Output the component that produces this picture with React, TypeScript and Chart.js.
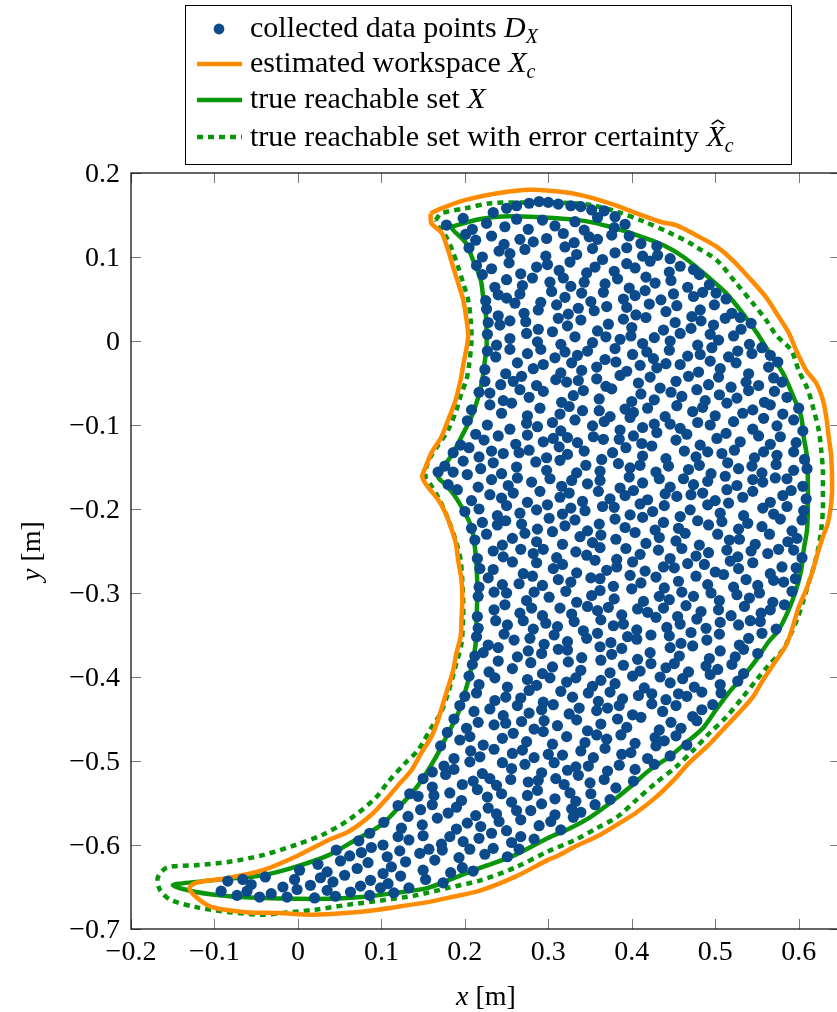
import { useEffect, useRef } from "react";
import { Chart, registerables } from "chart.js";

Chart.register(...registerables);

const CANVAS_W = 846;
const CANVAS_H = 1012;
const VIEW_W = 837;

const X_MIN = -0.2;
const X_MAX = 0.65;
const Y_MIN = -0.7;
const Y_MAX = 0.2;

const xTickValues = [-0.2, -0.1, 0, 0.1, 0.2, 0.3, 0.4, 0.5, 0.6];
const xTickLabels = ["−0.2", "−0.1", "0", "0.1", "0.2", "0.3", "0.4", "0.5", "0.6"];
const yTickValues = [0.2, 0.1, 0, -0.1, -0.2, -0.3, -0.4, -0.5, -0.6, -0.7];
const yTickLabels = ["0.2", "0.1", "0", "−0.1", "−0.2", "−0.3", "−0.4", "−0.5", "−0.6", "−0.7"];

const xAxisTitle = ["x", " [m]"];
const yAxisTitle = ["y", " [m]"];

const legendTexts = [
  "collected data points ",
  "estimated workspace ",
  "true reachable set ",
  "true reachable set with error certainty ",
];

const BLUE = "#0b4a8b";
const ORANGE = "#ff8c00";
const GREEN = "#0a960a";
const SERIF = '"Liberation Serif", "Times New Roman", serif';

// collected data points, in thousandths of a metre: x, y, x, y, ...
const collectedPointsMilli = [
  234,153, 250,158, 262,161, 277,164, 289,166, 300,165, 312,163, 327,161, 339,160, 352,156, 367,155, 380,148,
  178,138, 198,146, 209,133, 226,140, 248,136, 262,145, 276,133, 293,144, 308,137, 332,142, 343,132, 359,147, 379,135, 392,139,
  201,127, 213,120, 232,125, 247,115, 266,121, 282,118, 298,122, 318,128, 331,117, 349,124, 359,121, 376,126, 397,125, 411,116, 430,113,
  205,111, 221,100, 241,107, 254,104, 272,109, 297,101, 320,112, 334,103, 353,110, 365,97, 380,105, 394,111, 413,101, 431,102, 446,98,
  214,90, 232,86, 253,93, 267,80, 286,88, 299,91, 313,84, 326,94, 346,81, 356,88, 379,83, 394,92, 404,87, 422,95, 445,82, 458,89, 474,85,
  221,79, 236,64, 250,73, 269,66, 281,75, 302,70, 318,75, 327,65, 343,70, 368,68, 383,74, 397,63, 417,76, 428,69, 447,72, 467,64, 481,79, 493,67,
  225,48, 240,55, 250,51, 266,56, 291,46, 304,59, 320,52, 340,57, 351,47, 366,58, 390,50, 404,54, 416,60, 435,49, 450,56, 474,53, 485,58, 501,57, 513,50,
  226,38, 240,30, 260,45, 271,33, 288,37, 310,43, 324,32, 336,39, 355,36, 370,41, 394,40, 405,31, 421,44, 441,35, 454,42, 472,29, 482,37, 499,43, 520,33, 530,28,
  228,22, 242,19, 254,24, 273,23, 288,14, 312,27, 323,18, 339,25, 359,12, 372,20, 390,26, 400,16, 417,28, 438,13, 452,22, 471,15, 483,24, 498,19, 512,27, 531,14, 543,21,
  227,8, 238,-5, 254,3, 274,9, 287,-1, 305,11, 315,-4, 332,5, 353,-2, 369,5, 386,2, 399,6, 413,-3, 427,4, 446,0, 458,9, 479,-5, 494,8, 504,1, 522,6, 541,-4, 556,-8,
  227,-12, 237,-19, 254,-10, 275,-15, 291,-10, 308,-20, 320,-13, 335,-17, 347,-12, 368,-22, 380,-9, 401,-16, 418,-13, 426,-21, 445,-11, 467,-18, 482,-16, 496,-8, 516,-19, 527,-12, 544,-15, 566,-17,
  224,-34, 249,-39, 263,-26, 282,-33, 294,-28, 315,-38, 328,-26, 340,-35, 358,-31, 381,-25, 394,-36, 410,-29, 430,-32, 441,-27, 458,-28, 480,-37, 494,-24, 506,-33, 525,-26, 540,-39, 564,-31, 575,-25,
  224,-48, 243,-52, 258,-48, 268,-42, 286,-53, 309,-46, 322,-49, 336,-47, 358,-45, 369,-54, 386,-41, 408,-50, 422,-43, 434,-56, 453,-48, 468,-42, 492,-52, 504,-43, 519,-55, 537,-49, 552,-53, 570,-44, 580,-49,
  217,-61, 230,-62, 246,-71, 266,-58, 277,-67, 294,-60, 316,-73, 330,-65, 342,-59, 361,-69, 376,-57, 400,-72, 411,-63, 427,-70, 447,-61, 460,-66, 478,-58, 488,-71, 505,-64, 526,-68, 540,-59, 559,-73, 571,-60, 586,-67,
  208,-82, 230,-76, 244,-86, 256,-74, 275,-89, 290,-80, 314,-87, 325,-78, 341,-83, 361,-83, 374,-90, 392,-81, 402,-85, 419,-80, 440,-90, 454,-77, 473,-84, 485,-79, 500,-89, 514,-74, 533,-86, 545,-82, 566,-76, 581,-87, 600,-80,
  203,-95, 227,-100, 254,-105, 274,-98, 287,-102, 305,-97, 315,-107, 332,-94, 353,-101, 367,-96, 386,-106, 398,-91, 413,-103, 427,-99, 446,-99, 458,-104, 479,-97, 494,-100, 522,-96, 545,-105, 558,-92, 574,-101, 594,-94, 605,-107,
  195,-124, 213,-111, 223,-118, 240,-113, 261,-123, 275,-112, 294,-120, 306,-116, 323,-115, 335,-121, 354,-114, 366,-117, 385,-117, 402,-113, 412,-122, 430,-109, 453,-118, 466,-111, 482,-124, 502,-116, 513,-110, 530,-120, 552,-113, 566,-123, 578,-114, 597,-121,
  186,-133, 205,-127, 217,-138, 232,-131, 246,-134, 265,-133, 277,-130, 298,-139, 313,-126, 323,-135, 343,-131, 364,-141, 377,-133, 393,-127, 413,-137, 424,-125, 441,-140, 463,-131, 477,-138, 491,-132, 508,-134, 523,-130, 547,-139, 558,-132, 574,-136, 594,-132, 607,-141,
  168,-156, 176,-149, 186,-156, 198,-143, 219,-152, 234,-145, 244,-158, 262,-150, 285,-144, 298,-154, 314,-142, 334,-157, 345,-148, 362,-155, 384,-146, 398,-151, 410,-148, 429,-156, 444,-149, 468,-153, 481,-148, 495,-158, 515,-145, 528,-152, 544,-149, 556,-157, 573,-147, 594,-154, 610,-152,
  180,-171, 203,-159, 216,-174, 232,-165, 252,-172, 263,-163, 280,-168, 302,-164, 316,-173, 328,-166, 347,-170, 362,-166, 386,-175, 397,-162, 413,-169, 433,-164, 446,-174, 462,-164, 474,-171, 491,-167, 512,-161, 526,-172, 545,-165, 557,-168, 572,-163, 586,-164, 605,-173,
  191,-177, 208,-190, 230,-183, 244,-187, 258,-181, 275,-192, 290,-179, 314,-186, 325,-181, 341,-191, 360,-179, 374,-188, 392,-184, 402,-178, 419,-189, 440,-182, 454,-185, 471,-183, 485,-181, 500,-190, 514,-177, 533,-186, 545,-179, 566,-192, 581,-184, 591,-178, 609,-188,
  200,-203, 217,-200, 239,-208, 250,-196, 266,-205, 286,-201, 299,-195, 317,-206, 327,-199, 344,-202, 365,-197, 379,-198, 398,-207, 410,-194, 425,-203, 439,-196, 458,-209, 470,-201, 491,-195, 506,-205, 516,-193, 534,-208, 557,-199, 570,-206, 586,-197, 606,-202,
  208,-223, 221,-216, 239,-219, 249,-214, 268,-218, 287,-224, 301,-211, 320,-220, 332,-213, 347,-226, 361,-218, 380,-212, 392,-222, 413,-210, 428,-225, 438,-216, 456,-223, 479,-214, 492,-219, 508,-215, 528,-224, 539,-217, 556,-221, 578,-212, 592,-226, 604,-213,
  212,-237, 226,-230, 245,-243, 257,-235, 272,-229, 286,-239, 305,-227, 317,-242, 338,-233, 353,-240, 363,-231, 381,-236, 404,-228, 417,-241, 433,-234, 453,-238, 464,-229, 481,-243, 503,-230, 517,-237, 529,-236, 548,-242, 565,-230, 587,-239, 598,-235,
  215,-259, 234,-250, 246,-257, 267,-248, 282,-253, 294,-248, 310,-258, 333,-251, 346,-255, 362,-246, 382,-260, 393,-247, 410,-254, 432,-249, 446,-259, 460,-247, 477,-256, 492,-252, 514,-249, 527,-257, 543,-250, 563,-253, 576,-248, 594,-249, 604,-258,
  218,-271, 234,-272, 257,-263, 270,-277, 286,-264, 306,-271, 317,-266, 334,-276, 356,-261, 370,-273, 382,-269, 401,-263, 416,-274, 438,-269, 451,-270, 467,-265, 487,-266, 500,-275, 518,-262, 528,-271, 545,-264, 566,-277, 580,-269, 597,-270,
  217,-293, 228,-282, 245,-290, 265,-289, 281,-280, 293,-291, 312,-284, 327,-287, 351,-282, 362,-283, 378,-292, 398,-279, 411,-288, 429,-281, 439,-294, 456,-286, 477,-280, 491,-290, 510,-278, 522,-293, 537,-284, 551,-291, 570,-285, 582,-287, 596,-283,
  216,-304, 235,-299, 250,-300, 274,-309, 283,-299, 301,-305, 321,-298, 334,-311, 352,-303, 362,-297, 379,-307, 400,-295, 414,-310, 433,-304, 445,-308, 460,-299, 474,-304, 495,-300, 505,-309, 526,-302, 541,-306, 553,-300, 569,-311, 592,-298,
  215,-328, 235,-320, 248,-314, 266,-324, 280,-318, 293,-327, 314,-318, 328,-325, 347,-316, 359,-321, 372,-317, 388,-326, 407,-319, 419,-323, 438,-318, 455,-328, 465,-315, 483,-322, 504,-320, 519,-327, 535,-316, 555,-324, 566,-320, 583,-314,
  216,-342, 237,-333, 251,-338, 270,-333, 282,-343, 297,-336, 311,-340, 331,-334, 342,-345, 363,-332, 378,-339, 390,-337, 406,-344, 429,-329, 442,-341, 458,-337, 478,-331, 489,-342, 506,-335, 528,-338, 542,-333, 554,-334, 573,-343,
  214,-352, 228,-362, 247,-349, 259,-356, 278,-354, 295,-361, 307,-350, 323,-358, 346,-354, 359,-348, 375,-359, 395,-352, 406,-355, 423,-350, 445,-351, 459,-360, 471,-347, 490,-356, 505,-349, 529,-362, 540,-354, 556,-348,
  212,-375, 222,-371, 240,-365, 263,-376, 276,-369, 292,-372, 312,-367, 323,-368, 340,-377, 362,-364, 376,-373, 388,-366, 407,-379, 422,-371, 446,-365, 457,-375, 473,-363, 493,-378, 506,-369, 524,-376, 534,-367, 551,-372,
  209,-385, 229,-394, 240,-381, 257,-390, 279,-383, 293,-396, 305,-388, 324,-382, 339,-392, 363,-380, 374,-395, 390,-386, 410,-393, 423,-384, 441,-389, 451,-384, 468,-394, 489,-387, 503,-391, 520,-385, 534,-396,
  205,-399, 217,-409, 236,-401, 251,-412, 275,-403, 286,-410, 302,-401, 322,-406, 333,-401, 353,-411, 363,-404, 380,-408, 401,-399, 415,-413, 434,-400, 446,-407, 461,-402, 475,-412, 494,-397, 506,-409, 527,-405,
  200,-423, 214,-419, 236,-428, 249,-424, 267,-425, 277,-416, 294,-430, 315,-417, 329,-424, 348,-419, 360,-429, 374,-418, 389,-426, 408,-422, 424,-420, 441,-427, 456,-420, 466,-423, 484,-418, 507,-419,
  194,-434, 211,-441, 230,-438, 246,-446, 263,-434, 277,-443, 292,-439, 306,-433, 325,-444, 337,-437, 358,-440, 371,-437, 385,-434, 401,-445, 424,-432, 437,-441, 453,-434, 473,-447, 484,-439, 497,-433,
  187,-450, 202,-461, 216,-454, 235,-457, 249,-455, 268,-453, 283,-462, 295,-452, 311,-458, 334,-451, 347,-464, 363,-456, 383,-450, 394,-460, 411,-448, 433,-463, 447,-454, 459,-461, 478,-452,
  179,-466, 194,-475, 206,-471, 222,-481, 245,-473, 258,-467, 274,-477, 294,-465, 305,-480, 322,-471, 344,-478, 358,-469, 370,-474, 387,-469, 404,-479, 428,-472, 439,-476, 453,-470, 466,-481,
  171,-482, 187,-497, 207,-488, 218,-495, 235,-486, 257,-491, 269,-487, 283,-496, 300,-492, 317,-493, 339,-488, 354,-496, 368,-485, 388,-492, 399,-490, 419,-497, 429,-482, 446,-494,
  161,-513, 175,-506, 187,-510, 206,-501, 221,-515, 245,-502, 256,-509, 272,-504, 292,-514, 307,-502, 323,-511, 333,-507, 348,-506, 371,-512, 385,-505, 404,-510, 427,-504,
  150,-521, 161,-531, 177,-516, 197,-528, 210,-524, 230,-521, 238,-529, 255,-522, 276,-525, 288,-523, 309,-521, 319,-528, 336,-517, 350,-526, 367,-522, 381,-532, 402,-524,
  134,-539, 144,-542, 163,-541, 182,-538, 196,-547, 215,-534, 227,-543, 244,-539, 256,-549, 275,-541, 287,-535, 308,-545, 326,-538, 333,-548, 351,-539, 374,-546,
  120,-553, 132,-566, 147,-558, 161,-552, 180,-562, 190,-555, 213,-565, 228,-556, 238,-563, 262,-559, 279,-559, 292,-551, 308,-564, 328,-557, 339,-561, 356,-552,
  103,-573, 124,-580, 149,-576, 167,-568, 190,-581, 203,-574, 219,-578, 241,-572, 250,-583, 267,-570, 289,-577, 303,-572, 315,-582, 330,-567,
  73,-595, 86,-586, 102,-600, 120,-590, 133,-594, 150,-589, 172,-599, 182,-590, 198,-596, 217,-592, 232,-586, 256,-597, 267,-590, 283,-593,
  46,-606, 62,-613, 76,-609, 88,-603, 107,-614, 122,-607, 146,-610, 157,-605, 173,-606, 193,-615, 206,-605, 224,-611, 234,-604, 251,-614, 265,-605,
  2,-630, 24,-623, 35,-632, 51,-619, 71,-628, 84,-621, 102,-634, 112,-626, 129,-620, 150,-630, 164,-618, 183,-633, 197,-627, 210,-631,
  -84,-643, -66,-641, -56,-647, -39,-638, -18,-650, -4,-641, 15,-648, 27,-639, 42,-644, 56,-636, 75,-649, 87,-642, 108,-646, 123,-637, 133,-651, 153,-641, 174,-645,
  -92,-655, -73,-660, -61,-655, -46,-662, -32,-658, -13,-662, -1,-653, 20,-663, 35,-654, 45,-661, 63,-656, 86,-660, 99,-651, 115,-657,
];

// estimated workspace boundary (orange)
const estimatedWorkspace = [
  [0.159,0.152],[0.172,0.158],[0.201,0.168],[0.239,0.176],[0.279,0.180],[0.320,0.177],[0.350,0.171],[0.379,0.162],[0.406,0.152],[0.434,0.142],[0.453,0.138],[0.477,0.126],[0.502,0.112],[0.521,0.096],[0.540,0.076],[0.561,0.052],[0.576,0.029],[0.588,0.010],[0.597,-0.011],[0.609,-0.035],[0.621,-0.050],[0.629,-0.070],[0.633,-0.090],[0.636,-0.114],[0.639,-0.138],[0.640,-0.169],[0.639,-0.193],[0.635,-0.217],[0.629,-0.233],[0.623,-0.252],[0.617,-0.273],[0.609,-0.296],[0.600,-0.317],[0.593,-0.340],[0.585,-0.362],[0.569,-0.386],[0.557,-0.404],[0.545,-0.424],[0.528,-0.443],[0.509,-0.463],[0.490,-0.483],[0.469,-0.502],[0.450,-0.523],[0.429,-0.543],[0.406,-0.561],[0.382,-0.576],[0.358,-0.590],[0.334,-0.601],[0.311,-0.613],[0.299,-0.618],[0.260,-0.638],[0.219,-0.654],[0.180,-0.663],[0.156,-0.668],[0.136,-0.671],[0.096,-0.677],[0.057,-0.681],[0.017,-0.683],[-0.023,-0.681],[-0.062,-0.680],[-0.103,-0.674],[-0.122,-0.662],[-0.130,-0.651],[-0.122,-0.645],[-0.082,-0.639],[-0.042,-0.630],[-0.003,-0.614],[0.037,-0.594],[0.061,-0.584],[0.088,-0.564],[0.108,-0.543],[0.120,-0.529],[0.136,-0.511],[0.148,-0.490],[0.160,-0.471],[0.168,-0.451],[0.174,-0.431],[0.180,-0.412],[0.186,-0.392],[0.190,-0.371],[0.195,-0.352],[0.196,-0.332],[0.197,-0.308],[0.196,-0.285],[0.192,-0.261],[0.189,-0.240],[0.183,-0.221],[0.177,-0.205],[0.168,-0.189],[0.156,-0.174],[0.149,-0.162],[0.153,-0.150],[0.160,-0.133],[0.172,-0.114],[0.180,-0.094],[0.189,-0.070],[0.195,-0.046],[0.198,-0.029],[0.204,0.005],[0.202,0.025],[0.198,0.049],[0.192,0.069],[0.186,0.088],[0.180,0.108],[0.172,0.129],[0.160,0.140],[0.159,0.152],
];

// true reachable set boundary (solid green)
const trueReachableSet = [
  [0.184,0.136],[0.213,0.144],[0.239,0.148],[0.279,0.148],[0.311,0.146],[0.343,0.143],[0.374,0.136],[0.406,0.126],[0.438,0.114],[0.462,0.100],[0.493,0.075],[0.513,0.057],[0.533,0.033],[0.549,0.011],[0.563,-0.011],[0.581,-0.038],[0.594,-0.067],[0.603,-0.090],[0.606,-0.114],[0.610,-0.138],[0.611,-0.169],[0.611,-0.201],[0.610,-0.225],[0.606,-0.249],[0.603,-0.273],[0.597,-0.296],[0.588,-0.320],[0.576,-0.344],[0.564,-0.358],[0.549,-0.380],[0.533,-0.400],[0.516,-0.419],[0.501,-0.439],[0.486,-0.460],[0.469,-0.475],[0.445,-0.495],[0.421,-0.511],[0.398,-0.531],[0.374,-0.550],[0.350,-0.567],[0.326,-0.580],[0.299,-0.592],[0.260,-0.612],[0.219,-0.627],[0.180,-0.642],[0.156,-0.651],[0.117,-0.657],[0.076,-0.662],[0.037,-0.664],[-0.003,-0.664],[-0.042,-0.663],[-0.082,-0.661],[-0.122,-0.656],[-0.150,-0.648],[-0.122,-0.644],[-0.082,-0.640],[-0.042,-0.636],[-0.003,-0.626],[0.037,-0.612],[0.069,-0.594],[0.100,-0.576],[0.120,-0.556],[0.144,-0.529],[0.165,-0.496],[0.180,-0.467],[0.192,-0.443],[0.202,-0.412],[0.208,-0.388],[0.213,-0.360],[0.214,-0.329],[0.215,-0.300],[0.214,-0.267],[0.211,-0.237],[0.207,-0.219],[0.198,-0.201],[0.189,-0.186],[0.177,-0.171],[0.168,-0.162],[0.172,-0.154],[0.184,-0.136],[0.196,-0.114],[0.208,-0.090],[0.216,-0.067],[0.221,-0.046],[0.223,-0.031],[0.226,-0.007],[0.226,0.013],[0.225,0.033],[0.222,0.052],[0.219,0.073],[0.210,0.096],[0.201,0.117],[0.186,0.132],[0.184,0.136],
];

// true reachable set with error certainty (dotted green)
const errorCertaintySet = [
  [0.165,0.144],[0.172,0.152],[0.201,0.158],[0.231,0.164],[0.272,0.165],[0.311,0.165],[0.350,0.162],[0.382,0.154],[0.415,0.142],[0.445,0.129],[0.469,0.117],[0.477,0.112],[0.502,0.096],[0.525,0.069],[0.545,0.045],[0.561,0.025],[0.573,0.007],[0.591,-0.011],[0.600,-0.035],[0.611,-0.058],[0.618,-0.082],[0.624,-0.106],[0.627,-0.130],[0.629,-0.154],[0.629,-0.177],[0.629,-0.201],[0.627,-0.225],[0.623,-0.249],[0.618,-0.269],[0.612,-0.288],[0.606,-0.308],[0.599,-0.329],[0.591,-0.348],[0.581,-0.368],[0.564,-0.386],[0.549,-0.404],[0.533,-0.424],[0.513,-0.448],[0.493,-0.467],[0.474,-0.487],[0.453,-0.507],[0.429,-0.526],[0.406,-0.546],[0.382,-0.567],[0.358,-0.580],[0.334,-0.593],[0.299,-0.608],[0.260,-0.627],[0.219,-0.642],[0.180,-0.651],[0.141,-0.660],[0.100,-0.666],[0.061,-0.671],[0.021,-0.677],[-0.019,-0.681],[-0.042,-0.683],[-0.082,-0.680],[-0.122,-0.674],[-0.153,-0.665],[-0.165,-0.654],[-0.168,-0.639],[-0.157,-0.627],[-0.122,-0.624],[-0.082,-0.620],[-0.042,-0.612],[-0.003,-0.600],[0.029,-0.588],[0.061,-0.570],[0.093,-0.544],[0.108,-0.525],[0.129,-0.502],[0.144,-0.487],[0.160,-0.460],[0.171,-0.443],[0.180,-0.419],[0.190,-0.383],[0.196,-0.360],[0.198,-0.329],[0.198,-0.308],[0.195,-0.261],[0.189,-0.237],[0.178,-0.207],[0.168,-0.186],[0.159,-0.171],[0.153,-0.162],[0.154,-0.150],[0.159,-0.138],[0.168,-0.124],[0.180,-0.106],[0.190,-0.082],[0.196,-0.062],[0.202,-0.046],[0.205,-0.029],[0.208,0.001],[0.207,0.025],[0.204,0.049],[0.198,0.069],[0.192,0.088],[0.185,0.108],[0.177,0.125],[0.168,0.137],[0.165,0.144],
];

type Part = { t: string; it?: boolean; size?: number; dy?: number; hat?: boolean };

function measureRich(ctx: CanvasRenderingContext2D, parts: Part[], base: number) {
  let w = 0;
  for (const p of parts) {
    ctx.font = `${p.it ? "italic " : ""}${p.size ?? base}px ${SERIF}`;
    w += ctx.measureText(p.t).width;
  }
  return w;
}

function drawRich(ctx: CanvasRenderingContext2D, x: number, y: number, parts: Part[], base: number) {
  let cx = x;
  for (const p of parts) {
    const size = p.size ?? base;
    ctx.font = `${p.it ? "italic " : ""}${size}px ${SERIF}`;
    ctx.fillText(p.t, cx, y + (p.dy ?? 0));
    const w = ctx.measureText(p.t).width;
    if (p.hat) {
      ctx.save();
      ctx.lineWidth = 1.6;
      ctx.strokeStyle = "#000";
      const hx = cx + w * 0.62;
      const hy = y - size * 0.86;
      ctx.beginPath();
      ctx.moveTo(hx - 6, hy + 4);
      ctx.lineTo(hx, hy);
      ctx.lineTo(hx + 6, hy + 4);
      ctx.stroke();
      ctx.restore();
    }
    cx += w;
  }
  return cx;
}

const decorPlugin = {
  id: "decor",
  afterDraw(chart: any) {
    const { ctx, chartArea: a, scales } = chart;
    const xs = scales.x;
    const ys = scales.y;
    ctx.save();

    // tick marks (inward, all four sides)
    ctx.strokeStyle = "#7a7a7a";
    ctx.lineWidth = 1;
    ctx.beginPath();
    for (const v of xTickValues) {
      const px = Math.round(xs.getPixelForValue(v)) + 0.5;
      ctx.moveTo(px, a.bottom);
      ctx.lineTo(px, a.bottom - 10);
      ctx.moveTo(px, a.top);
      ctx.lineTo(px, a.top + 10);
    }
    for (const v of yTickValues) {
      const py = Math.round(ys.getPixelForValue(v)) + 0.5;
      ctx.moveTo(a.left, py);
      ctx.lineTo(a.left + 10, py);
      ctx.moveTo(a.right, py);
      ctx.lineTo(a.right - 10, py);
    }
    ctx.stroke();

    // frame
    ctx.strokeStyle = "#000";
    ctx.lineWidth = 1.2;
    ctx.strokeRect(a.left, a.top, a.right - a.left, a.bottom - a.top);

    // tick labels
    ctx.fillStyle = "#000";
    ctx.font = `28px ${SERIF}`;
    ctx.textBaseline = "alphabetic";
    ctx.textAlign = "center";
    xTickValues.forEach((v, i) => ctx.fillText(xTickLabels[i], xs.getPixelForValue(v), a.bottom + 31));
    ctx.textAlign = "right";
    yTickValues.forEach((v, i) => ctx.fillText(yTickLabels[i], a.left - 11, ys.getPixelForValue(v) + 9));

    // axis titles
    ctx.textAlign = "left";
    const xt: Part[] = [{ t: xAxisTitle[0], it: true }, { t: xAxisTitle[1] }];
    const xw = measureRich(ctx, xt, 28);
    drawRich(ctx, 486 - xw / 2, 1005, xt, 28);
    const yt: Part[] = [{ t: yAxisTitle[0], it: true }, { t: yAxisTitle[1] }];
    const yw = measureRich(ctx, yt, 28);
    ctx.save();
    ctx.translate(40, 551);
    ctx.rotate(-Math.PI / 2);
    drawRich(ctx, -yw / 2, 0, yt, 28);
    ctx.restore();

    // legend
    ctx.strokeStyle = "#000";
    ctx.lineWidth = 1;
    ctx.strokeRect(185.5, 5.5, 606, 159);
    const symY = [29, 64, 100, 137];
    const baseY = [37, 72, 108, 146];
    ctx.fillStyle = BLUE;
    ctx.beginPath();
    ctx.arc(219, symY[0], 5.4, 0, Math.PI * 2);
    ctx.fill();
    const seg = (color: string, y: number, dash: number[]) => {
      ctx.strokeStyle = color;
      ctx.lineWidth = 4.5;
      ctx.lineCap = "butt";
      ctx.setLineDash(dash);
      ctx.beginPath();
      ctx.moveTo(197, y);
      ctx.lineTo(242, y);
      ctx.stroke();
      ctx.setLineDash([]);
    };
    seg(ORANGE, symY[1], []);
    seg(GREEN, symY[2], []);
    seg(GREEN, symY[3], [6, 5]);

    ctx.fillStyle = "#000";
    const LS = 30;
    drawRich(ctx, 250, baseY[0], [{ t: legendTexts[0] }, { t: "D", it: true }, { t: "X", it: true, size: 20, dy: 6 }], LS);
    drawRich(ctx, 250, baseY[1], [{ t: legendTexts[1] }, { t: "X", it: true }, { t: "c", it: true, size: 20, dy: 6 }], LS);
    drawRich(ctx, 250, baseY[2], [{ t: legendTexts[2] }, { t: "X", it: true }], LS);
    drawRich(ctx, 250, baseY[3], [{ t: legendTexts[3] }, { t: "X", it: true, hat: true }, { t: "c", it: true, size: 20, dy: 6 }], LS);

    ctx.restore();
  },
};

function toXY(arr: number[][]) {
  return arr.map(([x, y]) => ({ x, y }));
}

export default function App() {
  const ref = useRef<HTMLCanvasElement | null>(null);

  useEffect(() => {
    const canvas = ref.current;
    if (!canvas) return;
    const pts: { x: number; y: number }[] = [];
    for (let i = 0; i < collectedPointsMilli.length; i += 2) {
      pts.push({ x: collectedPointsMilli[i] / 1000, y: collectedPointsMilli[i + 1] / 1000 });
    }
    const chart = new Chart(canvas, {
      type: "scatter",
      data: {
        datasets: [
          {
            label: "collected data points",
            data: pts,
            pointRadius: 5.6,
            pointBorderWidth: 0,
            pointBackgroundColor: BLUE,
            pointBorderColor: BLUE,
            showLine: false,
          },
          {
            label: "estimated workspace",
            data: toXY(estimatedWorkspace),
            showLine: true,
            borderColor: ORANGE,
            borderWidth: 4.5,
            pointRadius: 0,
            tension: 0.3,
            fill: false,
          },
          {
            label: "true reachable set",
            data: toXY(trueReachableSet),
            showLine: true,
            borderColor: GREEN,
            borderWidth: 4.5,
            pointRadius: 0,
            tension: 0.3,
            fill: false,
          },
          {
            label: "true reachable set with error certainty",
            data: toXY(errorCertaintySet),
            showLine: true,
            borderColor: GREEN,
            borderWidth: 4.5,
            borderDash: [6, 5],
            borderCapStyle: "butt",
            pointRadius: 0,
            tension: 0.3,
            fill: false,
          },
        ],
      } as any,
      options: {
        responsive: false,
        animation: false,
        devicePixelRatio: 1,
        events: [],
        layout: { padding: { left: 131, top: 173, right: 1, bottom: 83 } },
        scales: {
          x: { type: "linear", min: X_MIN, max: X_MAX, display: false },
          y: { type: "linear", min: Y_MIN, max: Y_MAX, display: false },
        },
        plugins: { legend: { display: false }, tooltip: { enabled: false } },
      },
      plugins: [decorPlugin],
    });
    return () => chart.destroy();
  }, []);

  return (
    <div
      style={{
        position: "absolute",
        left: 0,
        top: 0,
        width: VIEW_W,
        height: CANVAS_H,
        overflow: "hidden",
        background: "#fff",
      }}
    >
      <canvas ref={ref} width={CANVAS_W} height={CANVAS_H} style={{ display: "block", width: CANVAS_W, height: CANVAS_H }} />
    </div>
  );
}
